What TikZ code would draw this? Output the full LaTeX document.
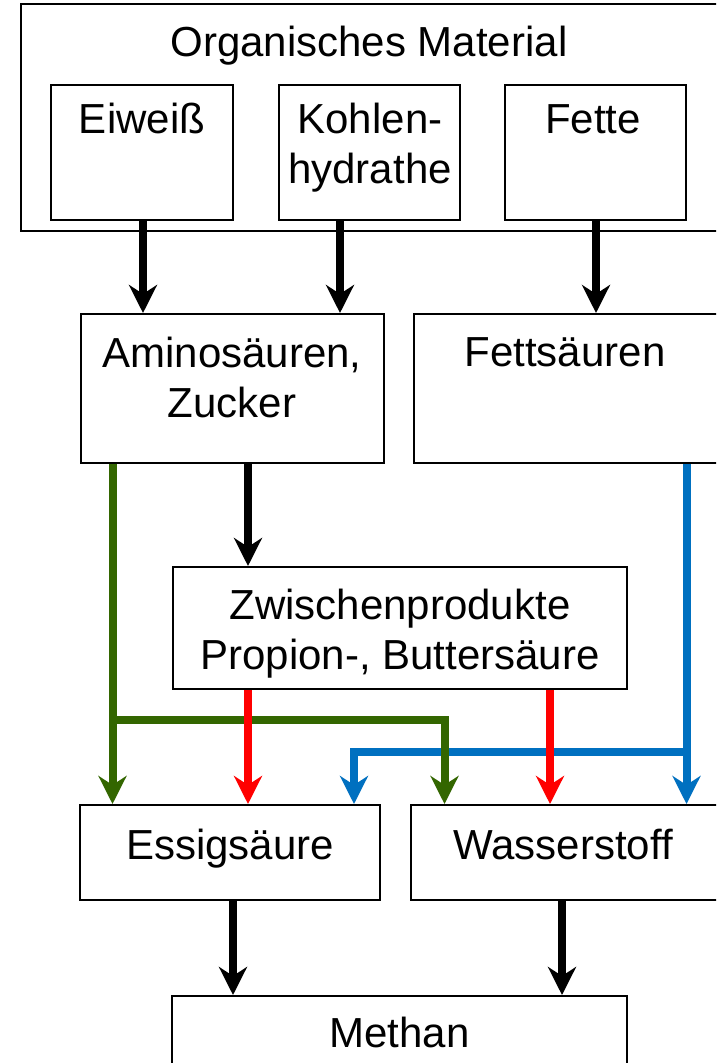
\documentclass[tikz,border=0pt]{standalone}
\usepackage{fontspec}
\setmainfont{Liberation Sans}
\usetikzlibrary{arrows.meta}
\definecolor{colGreen}{HTML}{336600}
\definecolor{colRed}{HTML}{FF0000}
\definecolor{colBlue}{HTML}{0070C0}
\tikzset{
  box/.style={draw, line width=1pt, rectangle, inner sep=0pt},
  txt/.style={inner sep=0pt, anchor=base, font=\fontsize{21pt}{25pt}\selectfont},
  tipA/.tip={Stealth[length=14pt, width=14pt, inset=4.5pt]},
  blkarrow/.style={line width=4pt, -tipA, draw=black},
  greenarrow/.style={line width=4pt, -tipA, draw=colGreen, miter limit=10},
  redarrow/.style={line width=4pt, -tipA, draw=colRed},
  bluearrow/.style={line width=4pt, -tipA, draw=colBlue, miter limit=10},
}
\begin{document}
\begin{tikzpicture}[x=0.5pt, y=-0.5pt]
\useasboundingbox (0,0) rectangle (716,1063);
\clip (0,0) rectangle (716,1063);
\fill[white] (0,0) rectangle (716,1063);

% boxes
\node[box, minimum width=348.5pt, minimum height=113.5pt] (outer) at (369.5,117.5) {};
\node[box, minimum width=91pt, minimum height=67.5pt] (eiw) at (142,152.5) {};
\node[box, minimum width=90.5pt, minimum height=67.5pt] (kohl) at (369.5,152.5) {};
\node[box, minimum width=90.5pt, minimum height=67.5pt] (fette) at (595.5,152.5) {};
\node[box, minimum width=151.5pt, minimum height=74.5pt] (amino) at (232.5,388.5) {};
\node[box, minimum width=152pt, minimum height=74.5pt] (fetts) at (566,388.5) {};
\node[box, minimum width=227pt, minimum height=61pt] (zw) at (400,628) {};
\node[box, minimum width=150pt, minimum height=47.5pt] (essig) at (230,852.5) {};
\node[box, minimum width=153.5pt, minimum height=47.5pt] (wasser) at (564.5,852.5) {};
\node[box, minimum width=227.5pt, minimum height=42pt] (methan) at (399.5,1038) {};

% texts
\node[txt] (tOrg) at (369,57) {Organisches Material};
\node[txt] (tEiw) at (142,134) {Eiweiß};
\node[txt] (tKoh1) at (370,134) {Kohlen-};
\node[txt] (tKoh2) at (370,184) {hydrathe};
\node[txt] (tFet) at (593,134) {Fette};
\node[txt] (tAm1) at (232,367) {Aminosäuren,};
\node[txt] (tAm2) at (232,417) {Zucker};
\node[txt] (tFs) at (565,366) {Fettsäuren};
\node[txt] (tZw1) at (400,619) {Zwischenprodukte};
\node[txt] (tZw2) at (400,669) {Propion-, Buttersäure};
\node[txt] (tEs) at (230,859) {Essigsäure};
\node[txt] (tWa) at (563,859) {Wasserstoff};
\node[txt] (tMe) at (399.5,1047) {Methan};

% x positions of connectors
\coordinate (xA) at (143,0);
\coordinate (xB) at (340,0);
\coordinate (xC) at (596,0);
\coordinate (xD) at (248,0);
\coordinate (xE) at (233,0);
\coordinate (xF) at (562,0);
\coordinate (xG1) at (112.5,0);
\coordinate (xG2) at (444.5,0);
\coordinate (xR2) at (550,0);
\coordinate (xB1) at (686.5,0);
\coordinate (xB2) at (354,0);
\coordinate (gj) at (112.5,719.5);
\coordinate (bj) at (686.5,751.5);

% black arrows
\draw[blkarrow] (eiw.south -| xA) -- (amino.north -| xA);
\draw[blkarrow] (kohl.south -| xB) -- (amino.north -| xB);
\draw[blkarrow] (fette.south -| xC) -- (fetts.north -| xC);
\draw[blkarrow] (amino.south -| xD) -- (zw.north -| xD);
\draw[blkarrow] (essig.south -| xE) -- (methan.north -| xE);
\draw[blkarrow] (wasser.south -| xF) -- (methan.north -| xF);

% blue
\draw[bluearrow] (fetts.south -| xB1) -- (wasser.north -| xB1);
\draw[bluearrow] (bj) -| (essig.north -| xB2);
% green
\draw[greenarrow] (amino.south -| xG1) -- (essig.north -| xG1);
\draw[greenarrow] (gj) -| (wasser.north -| xG2);
% red
\draw[redarrow] (zw.south -| xD) -- (essig.north -| xD);
\draw[redarrow] (zw.south -| xR2) -- (wasser.north -| xR2);
\end{tikzpicture}
\end{document}
